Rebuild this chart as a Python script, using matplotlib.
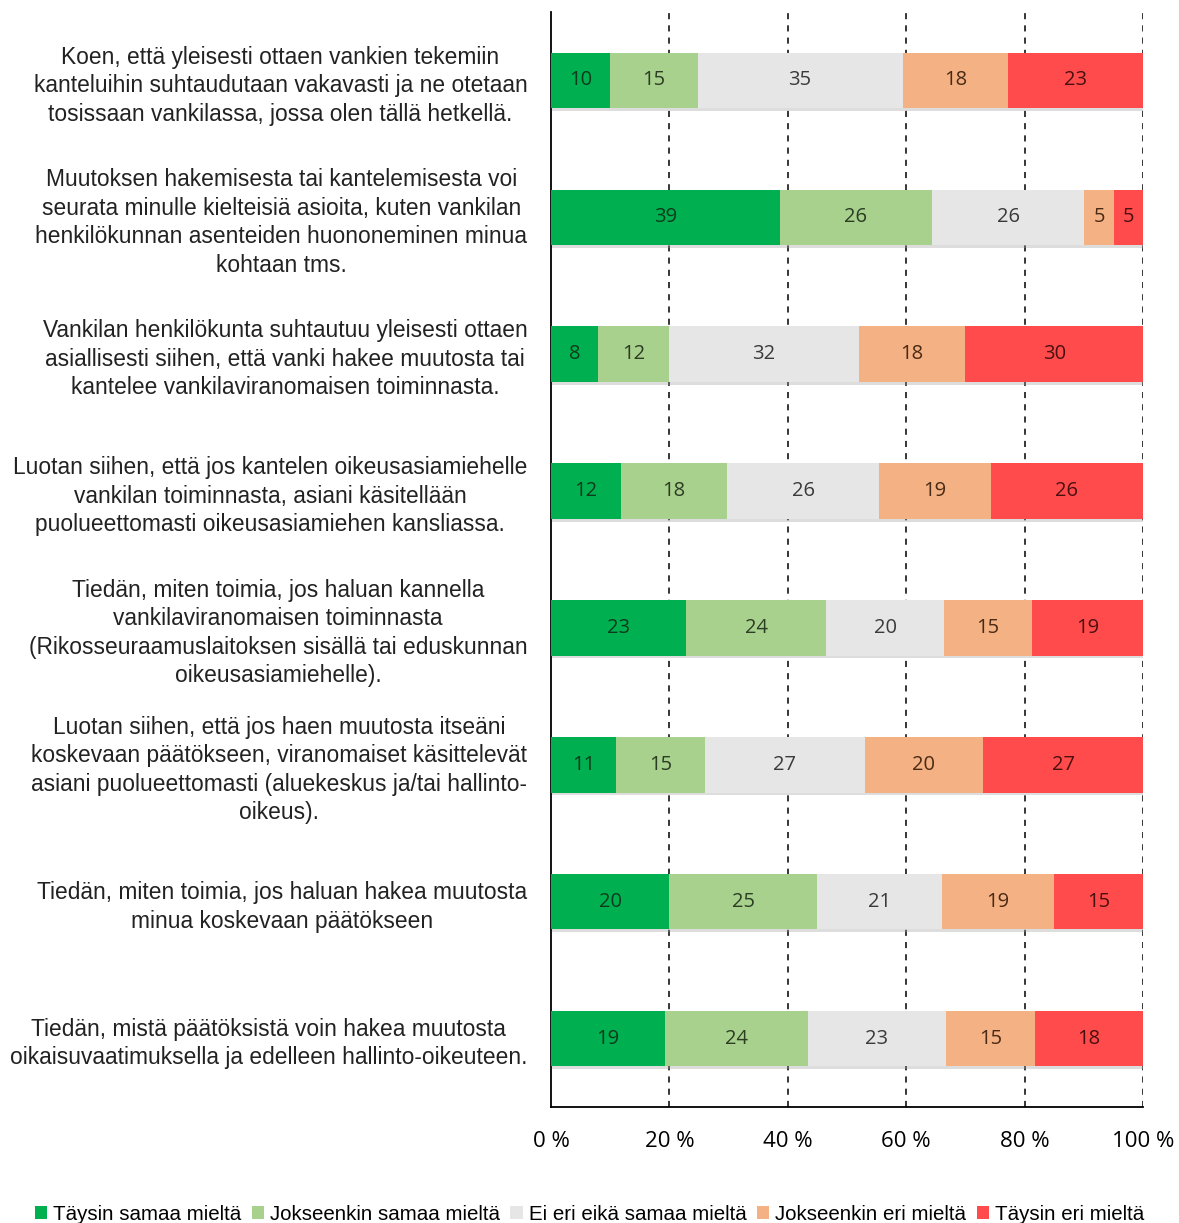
import numpy as np
import matplotlib
matplotlib.use('Agg')
from matplotlib import pyplot as plt
import matplotlib.patheffects as pe
from matplotlib.patches import Patch

# categories (top to bottom)
questions = [
    "Koen, että yleisesti ottaen vankien tekemiin\nkanteluihin suhtaudutaan vakavasti ja ne otetaan\ntosissaan vankilassa, jossa olen tällä hetkellä.",
    "Muutoksen hakemisesta tai kantelemisesta voi\nseurata minulle kielteisiä asioita, kuten vankilan\nhenkilökunnan asenteiden huononeminen minua\nkohtaan tms.",
    "Vankilan henkilökunta suhtautuu yleisesti ottaen\nasiallisesti siihen, että vanki hakee muutosta tai\nkantelee vankilaviranomaisen toiminnasta.",
    "Luotan siihen, että jos kantelen oikeusasiamiehelle\nvankilan toiminnasta, asiani käsitellään\npuolueettomasti oikeusasiamiehen kansliassa.",
    "Tiedän, miten toimia, jos haluan kannella\nvankilaviranomaisen toiminnasta\n(Rikosseuraamuslaitoksen sisällä tai eduskunnan\noikeusasiamiehelle).",
    "Luotan siihen, että jos haen muutosta itseäni\nkoskevaan päätökseen, viranomaiset käsittelevät\nasiani puolueettomasti (aluekeskus ja/tai hallinto-\noikeus).",
    "Tiedän, miten toimia, jos haluan hakea muutosta\nminua koskevaan päätökseen",
    "Tiedän, mistä päätöksistä voin hakea muutosta\noikaisuvaatimuksella ja edelleen hallinto-oikeuteen.",
]

series = ["Täysin samaa mieltä", "Jokseenkin samaa mieltä", "Ei eri eikä samaa mieltä",
          "Jokseenkin eri mieltä", "Täysin eri mieltä"]

# percentages per question, one list per answer option
taysin_samaa = [10, 39, 8, 12, 23, 11, 20, 19]
jokseenkin_samaa = [15, 26, 12, 18, 24, 15, 25, 24]
ei_eri_eika = [35, 26, 32, 26, 20, 27, 21, 23]
jokseenkin_eri = [18, 5, 18, 19, 15, 20, 19, 15]
taysin_eri = [23, 5, 30, 26, 19, 27, 15, 18]

ticks = [0, 20, 40, 60, 80, 100]

colors = ['#00B050', '#A9D18E', '#E6E6E6', '#F4B183', '#FF4B4B']
txt_colors = ['#0d3b1c', '#2b3d22', '#3a3a3a', '#4a2a14', '#4a1010']

vals = np.array([taysin_samaa, jokseenkin_samaa, ei_eri_eika, jokseenkin_eri, taysin_eri], dtype=float)
shares = vals / vals.sum(axis=0) * 100

fig = plt.figure(figsize=(11.79, 12.23), dpi=100)
ax = fig.add_axes([551/1179, 1-1107/1223, (1143-551)/1179, (1107-12)/1223])

y = np.arange(len(questions))
left = np.zeros(len(questions))
shadow = [pe.SimplePatchShadow(offset=(1.0, -2.0), shadow_rgbFace='#a0a0a0', alpha=0.35), pe.Normal()]
for k in range(5):
    bars = ax.barh(y, shares[k], left=left, height=0.405, color=colors[k],
                   zorder=3, linewidth=0)
    for b in bars:
        b.set_path_effects(shadow)
    for i in range(len(questions)):
        ax.text(left[i] + shares[k][i]/2, y[i], '%d' % vals[k][i], ha='center', va='center',
                fontsize=14.5, color=txt_colors[k], family='Open Sans', zorder=5)
    left += shares[k]

ax.set_ylim(7.5, -0.5)
ax.set_xlim(0, 100)
for t in ticks[1:]:
    ax.axvline(t, color='black', linestyle=(0, (4, 4)), linewidth=1.1, zorder=1)

ax.spines['top'].set_visible(False)
ax.spines['right'].set_visible(False)
ax.spines['left'].set_linewidth(1.3)
ax.spines['bottom'].set_linewidth(1.3)
ax.set_xticks(ticks)
ax.set_xticklabels(['%d %%' % t for t in ticks], fontsize=16, family='Open Sans')
ax.tick_params(axis='x', length=0, pad=17)
ax.set_yticks(y)
ax.set_yticklabels(questions, fontsize=16.4, family='Liberation Sans', linespacing=1.3)
for lbl in ax.get_yticklabels():
    lbl.set_multialignment('center')
    lbl.set_color('#222222')
ax.tick_params(axis='y', length=0, pad=17)

handles = [Patch(facecolor=c, edgecolor='none') for c in colors]
fig.legend(handles, series, loc='lower center', bbox_to_anchor=(0.5, -0.016), ncol=5, frameon=False,
           handlelength=0.6, handleheight=0.6, handletextpad=0.3, columnspacing=0.5,
           prop={'family': 'Liberation Sans', 'size': 14.8})

fig.savefig('out.png', dpi=100)
